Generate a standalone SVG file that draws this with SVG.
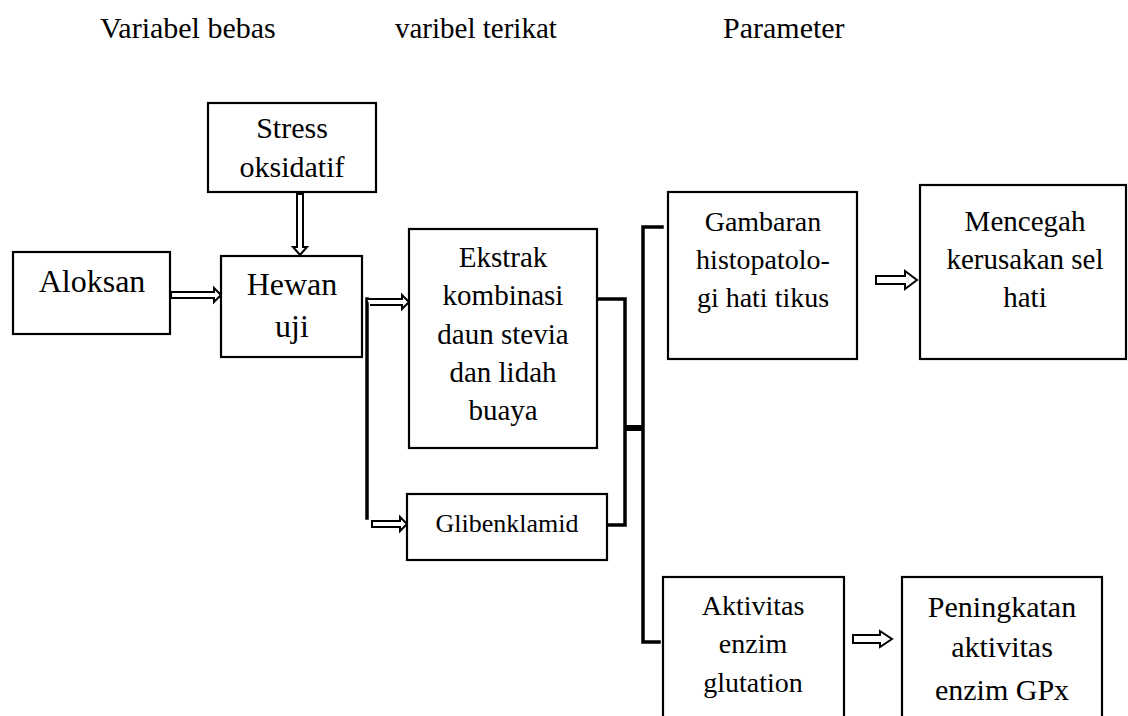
<svg xmlns="http://www.w3.org/2000/svg" width="1128" height="716" viewBox="0 0 1128 716">
<style>
text{font-family:"Liberation Serif","Times New Roman",serif;fill:#000}
.c{text-anchor:middle}
.box{fill:#fff;stroke:#000;stroke-width:2.2}
.ln{fill:none;stroke:#000;stroke-width:3.5;stroke-linejoin:miter;stroke-linecap:square}
.ha{fill:#fff;stroke:#000;stroke-width:2;stroke-linejoin:miter}
</style>
<rect width="1128" height="716" fill="#fff"/>
<g id="headers" font-size="30">
<text x="100" y="38">Variabel bebas</text>
<text x="395" y="38" font-size="29">varibel terikat</text>
<text x="723" y="38">Parameter</text>
</g>
<g id="connectors">
<path class="ha" d="M297 194 V247 H293 L300 255 L307 247 H303 V194 Z"/>
<path class="ha" d="M171 292 H214 V288 L221 295 L214 302 V298 H171 Z"/>
<path class="ln" d="M367 518 V299"/>
<path class="ha" d="M367 299 H402 V295 L409 302 L402 309 V305 H370"/>
<path class="ha" d="M372 521 H400 V517 L407 524 L400 531 V527 H372 Z"/>
<path class="ln" d="M598 299 H625 V525 H608"/>
<path d="M625 428 H643" stroke="#000" stroke-width="6"/>
<path class="ln" d="M662 227 H643 V642 H659"/>
<path class="ha" stroke-width="2.5" d="M876 276 H905 V271 L917 280 L905 289 V284 H876 Z"/>
<path class="ha" stroke-width="2.5" d="M853 635 H880 V631 L892 639 L880 647 V643 H853 Z"/>
</g>
<g id="stress">
<rect class="box" x="208" y="103" width="168" height="89"/>
<text class="c" x="292" y="138" font-size="30">Stress</text>
<text class="c" x="292" y="177" font-size="30">oksidatif</text>
</g>
<g id="aloksan">
<rect class="box" x="13" y="252" width="157" height="82"/>
<text class="c" x="92" y="292" font-size="32">Aloksan</text>
</g>
<g id="hewan">
<rect class="box" x="221" y="256" width="141" height="101"/>
<text class="c" x="292" y="295" font-size="32">Hewan</text>
<text class="c" x="292" y="337" font-size="32">uji</text>
</g>
<g id="ekstrak" font-size="29">
<rect class="box" x="409" y="229" width="188" height="219"/>
<text class="c" x="503" y="267">Ekstrak</text>
<text class="c" x="503" y="305">kombinasi</text>
<text class="c" x="503" y="344">daun stevia</text>
<text class="c" x="503" y="382">dan lidah</text>
<text class="c" x="503" y="420">buaya</text>
</g>
<g id="glibenklamid">
<rect class="box" x="407" y="494" width="200" height="66"/>
<text class="c" x="507" y="532" font-size="26">Glibenklamid</text>
</g>
<g id="gambaran" font-size="28">
<rect class="box" x="668" y="192" width="189" height="167"/>
<text class="c" x="763" y="231">Gambaran</text>
<text class="c" x="763" y="269">histopatolo-</text>
<text class="c" x="763" y="307">gi hati tikus</text>
</g>
<g id="mencegah" font-size="29">
<rect class="box" x="920" y="185" width="206" height="174"/>
<text class="c" x="1025" y="231">Mencegah</text>
<text class="c" x="1025" y="269">kerusakan sel</text>
<text class="c" x="1025" y="307">hati</text>
</g>
<g id="aktivitas" font-size="28">
<rect class="box" x="663" y="577" width="181" height="150"/>
<text class="c" x="753" y="615">Aktivitas</text>
<text class="c" x="753" y="653">enzim</text>
<text class="c" x="753" y="692">glutation</text>
</g>
<g id="peningkatan" font-size="30">
<rect class="box" x="902" y="577" width="200" height="150"/>
<text class="c" x="1002" y="617">Peningkatan</text>
<text class="c" x="1002" y="657">aktivitas</text>
<text class="c" x="1002" y="700">enzim GPx</text>
</g>
</svg>
